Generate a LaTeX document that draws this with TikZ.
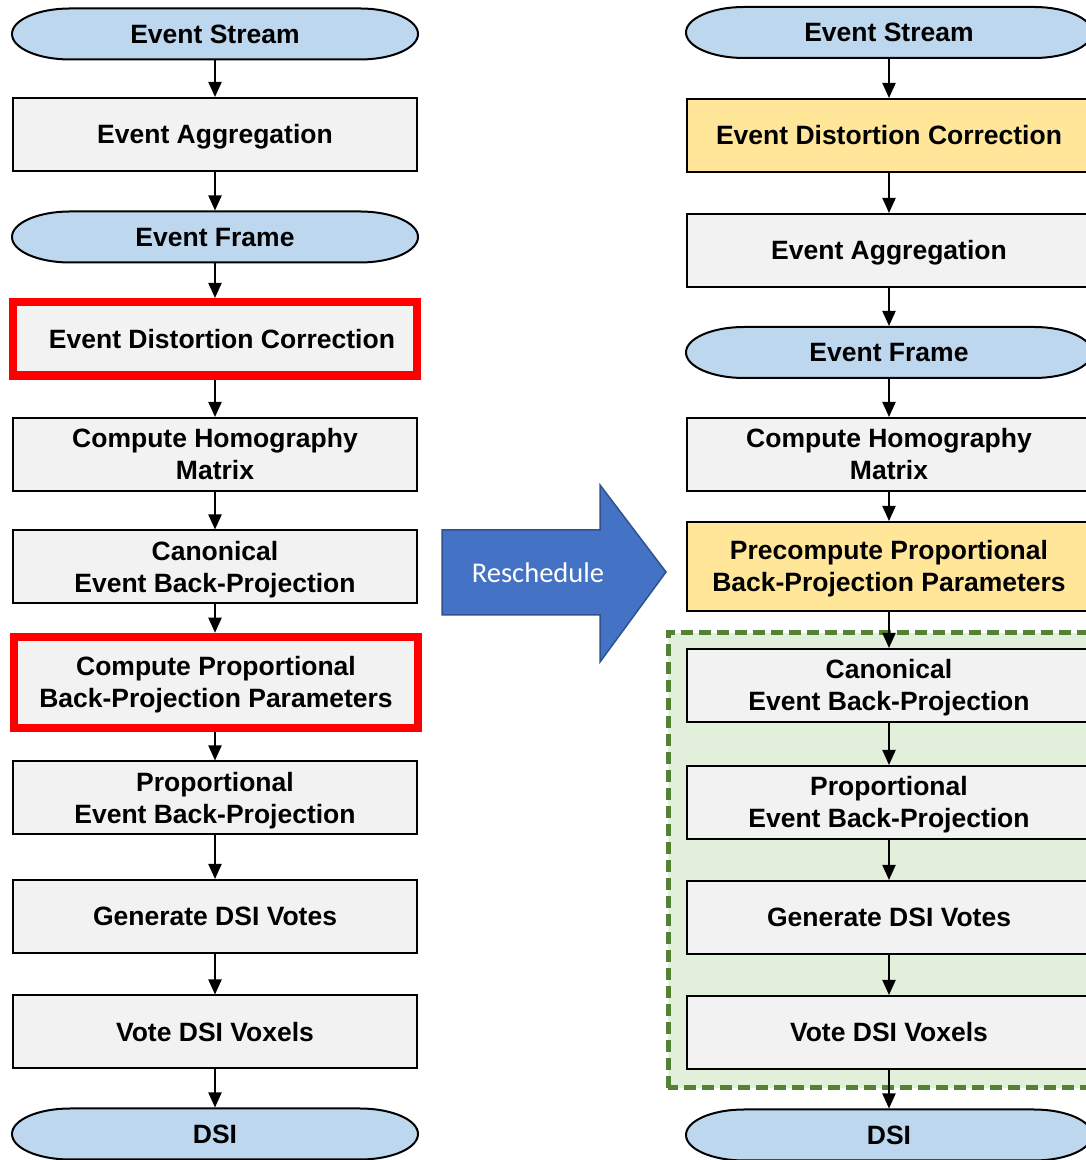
\documentclass[tikz,border=0pt]{standalone}
\usepackage{fontspec}
\setmainfont{Liberation Sans}
\newfontfamily\calib{Carlito}
\usetikzlibrary{arrows.meta}
\definecolor{termblue}{HTML}{BDD7EE}
\definecolor{boxgray}{HTML}{F2F2F2}
\definecolor{hiyellow}{HTML}{FFE699}
\definecolor{hired}{HTML}{FF0000}
\definecolor{grpline}{HTML}{548235}
\definecolor{grpfill}{HTML}{E2EFDA}
\definecolor{bigarrow}{HTML}{4472C4}
\definecolor{bigarrowline}{HTML}{2F528F}
\newcommand\st{\rule[-0.212em]{0pt}{1.117em}}
\newcommand\termnode[4]{%
  \draw[termshape] ({#2-145},{#3+25.5}) -- ({#2+145},{#3+25.5})
    arc[start angle=90,end angle=-90,x radius=58,y radius=25.5]
    -- ({#2-145},{#3-25.5})
    arc[start angle=270,end angle=90,x radius=58,y radius=25.5] -- cycle;
  \node[termtext] (#1) at (#2,#3) {\st #4};}
\begin{document}
\begin{tikzpicture}[x=1pt,y=1pt,
  every node/.style={font=\fontsize{26.5}{32}\selectfont\bfseries, align=center},
  termshape/.style={draw=black, line width=2pt, fill=termblue},
  termtext/.style={rectangle, minimum width=406pt, minimum height=51pt, inner sep=0pt, outer sep=1pt},
  procbox/.style={rectangle, draw=black, line width=2pt, fill=boxgray, minimum width=404pt, minimum height=73pt, inner sep=0pt},
  redbox/.style={procbox, draw=hired, line width=8.5pt},
  yellowbox/.style={procbox, fill=hiyellow},
  arr/.style={draw=black, line width=2pt, -{Triangle[width=13pt,length=15pt]}},
  grp/.style={draw=grpline, fill=grpfill, line width=5pt, dash pattern=on 12pt off 6pt},
  bigarr/.style={draw=bigarrowline, line width=1.5pt, fill=bigarrow}
]
\path[use as bounding box] (0,0) rectangle (1086,1160);
\clip (0,0) rectangle (1086,1160);
\fill[white] (0,0) rectangle (1086,1160);

% ---------- Left column ----------
\termnode{ls}{215}{1126}{Event Stream}
\node[procbox] (la) at (215,1025.5) {\st Event Aggregation};
\termnode{lf}{215}{923}{Event Frame}
\node[redbox, minimum height=73.5pt] (ld) at (215,821) {\st\hspace*{14pt}Event Distortion Correction};
\node[procbox] (lh) at (215,705.5) {\st Compute Homography\\\st Matrix};
\node[procbox] (lc) at (215,593) {\st Canonical\\\st Event Back-Projection};
\node[redbox, minimum height=91pt] (lp) at (216,477.5) {\st Compute Proportional\\\st Back-Projection Parameters};
\node[procbox] (lq) at (215,362) {\st Proportional\\\st Event Back-Projection};
\node[procbox] (lg) at (215,243.5) {\st Generate DSI Votes};
\node[procbox] (lv) at (215,128) {\st Vote DSI Voxels};
\termnode{lo}{215}{26}{DSI}

\draw[arr] (ls) -- (la);
\draw[arr] (la) -- (lf);
\draw[arr] (lf) -- (ld);
\draw[arr] (ld) -- (lh);
\draw[arr] (lh) -- (lc);
\draw[arr] (lc.south) -- (lc.south |- lp.north);
\draw[arr] (lp.south -| lq.north) -- (lq.north);
\draw[arr] (lq) -- (lg);
\draw[arr] (lg) -- (lv);
\draw[arr] (lv) -- (lo);

% ---------- Reschedule arrow ----------
\draw[bigarr] (442,630) -- (600,630) -- (600,675) -- (666,588) -- (600,498)
  -- (600,545) -- (442,545) -- cycle;
\node[text=white, font=\calib\fontsize{28.5}{32}\selectfont] (resched) at (538,587.5) {Reschedule};

% ---------- Right column ----------
\path[grp] (668,72) rectangle (1100,527);
\termnode{rs}{889}{1127.5}{Event Stream}
\node[yellowbox] (rd) at (889,1024.5) {\st Event Distortion Correction};
\node[procbox] (ra) at (889,909.5) {\st Event Aggregation};
\termnode{rf}{889}{807.5}{Event Frame}
\node[procbox] (rh) at (889,705.5) {\st Compute Homography\\\st Matrix};
\node[yellowbox, minimum height=89pt] (rp) at (889,593.5) {\st Precompute Proportional\\\st Back-Projection Parameters};
\node[procbox] (rc) at (889,474.5) {\st Canonical\\\st Event Back-Projection};
\node[procbox] (rq) at (889,357.5) {\st Proportional\\\st Event Back-Projection};
\node[procbox] (rg) at (889,242.5) {\st Generate DSI Votes};
\node[procbox] (rv) at (889,127.5) {\st Vote DSI Voxels};
\termnode{ro}{889}{25}{DSI}

\draw[arr] (rs) -- (rd);
\draw[arr] (rd) -- (ra);
\draw[arr] (ra) -- (rf);
\draw[arr] (rf) -- (rh);
\draw[arr] (rh) -- (rp);
\draw[arr] (rp) -- (rc);
\draw[arr] (rc) -- (rq);
\draw[arr] (rq) -- (rg);
\draw[arr] (rg) -- (rv);
\draw[arr] (rv) -- (ro);
\end{tikzpicture}
\end{document}
